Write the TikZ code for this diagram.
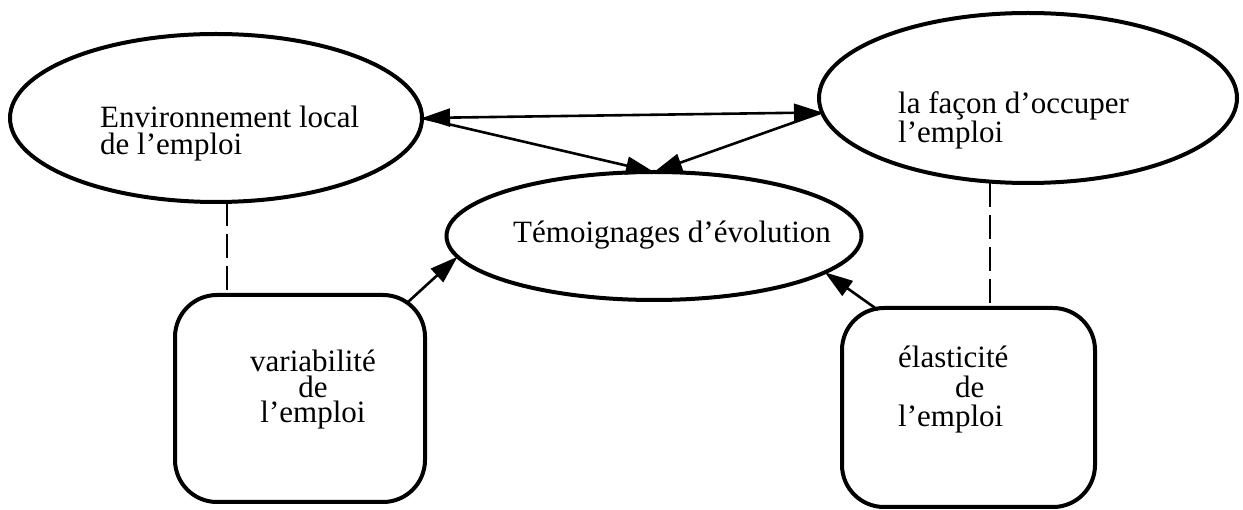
\documentclass[tikz,border=0pt]{standalone}
\usepackage{fontspec}
\setmainfont{Liberation Serif}
\usetikzlibrary{arrows.meta,shapes.geometric}
\begin{document}
\begin{tikzpicture}[x=1pt,y=-1pt,
  oval/.style={ellipse, draw, line width=4pt, inner sep=0pt, outer sep=0pt},
  rbox/.style={rectangle, draw, line width=4pt, rounded corners=42pt, inner sep=0pt, outer sep=0pt},
  lbl/.style={inner sep=0pt, font=\fontsize{31}{27}\selectfont},
  conn/.style={line width=2.6pt, -{Triangle[length=28pt,width=18pt]}},
  dconn/.style={line width=2.6pt, {Triangle[length=28pt,width=18pt]}-{Triangle[length=28pt,width=18pt]}},
  dashline/.style={line width=2.6pt, dash pattern=on 24pt off 8pt}]
\useasboundingbox (0,0) rectangle (1243,510);
% shapes
\node[oval, minimum width=412pt, minimum height=168pt] (env) at (216,118) {};
\node[oval, minimum width=418pt, minimum height=170pt] (facon) at (1028,98) {};
\node[oval, minimum width=415pt, minimum height=128pt] (temo) at (654,236) {};
\node[rbox, minimum width=250pt, minimum height=207pt] (var) at (300,398.5) {};
\node[rbox, minimum width=253pt, minimum height=199pt] (ela) at (968.5,407.5) {};
% texts (base anchor = baseline of the last line)
\node[lbl, anchor=base west, align=left] (envT) at (100,155) {Environnement local\\de l’emploi};
\node[lbl, anchor=base west, align=left, font=\fontsize{31}{26}\selectfont] (faconT) at (898,143) {la façon d’occuper\\l’emploi};
\node[lbl, anchor=base west] (temoT) at (513,243) {Témoignages d’évolution};
\node[lbl, anchor=base, align=center, font=\fontsize{31}{25.5}\selectfont] (varT) at (313,423) {variabilité\\de\\l’emploi};
\node[lbl, anchor=base west, align=left, font=\fontsize{31}{29.5}\selectfont] (elaT) at (898,427) {élasticité\\\hspace*{57pt}de\\l’emploi};
% connectors
\draw[dconn] (env.east) -- (facon.184);
\draw[conn] (env.east) -- (temo.north);
\draw[conn] (facon.184) -- (temo.north);
\draw[conn] ([xshift=-17pt,yshift=-7pt]var.north east) -- (temo.186);
\draw[conn] ([xshift=36pt,yshift=-2pt]ela.north west) -- (temo.348);
\draw[dashline] ([xshift=11pt]env.south) -- ([xshift=11pt]env.south |- var.north);
\draw[dashline] ([xshift=-38pt]facon.south) -- ([xshift=-38pt]facon.south |- ela.north);
\end{tikzpicture}
\end{document}
